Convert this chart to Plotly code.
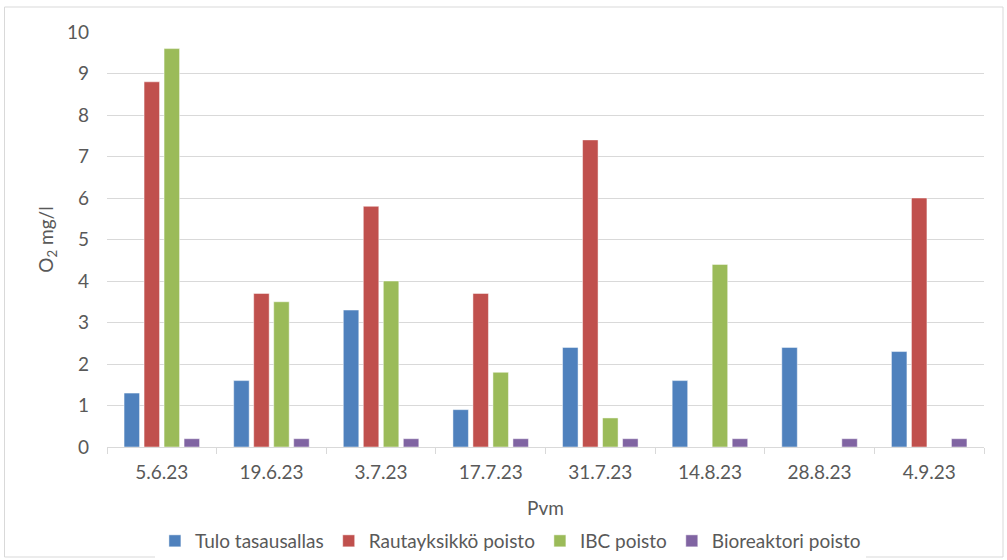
import plotly.graph_objects as go

# Sampling dates and dissolved oxygen readings (mg/l) per sampling point
dates = ["5.6.23", "19.6.23", "3.7.23", "17.7.23", "31.7.23", "14.8.23", "28.8.23", "4.9.23"]
tulo_tasausallas = [1.3, 1.6, 3.3, 0.9, 2.4, 1.6, 2.4, 2.3]
rautayksikko_poisto = [8.8, 3.7, 5.8, 3.7, 7.4, None, None, 6.0]
ibc_poisto = [9.6, 3.5, 4.0, 1.8, 0.7, 4.4, None, None]
bioreaktori_poisto = [0.2, 0.2, 0.2, 0.2, 0.2, 0.2, 0.2, 0.2]

series = [
    ("Tulo tasausallas", tulo_tasausallas, "#4F81BD"),
    ("Rautayksikkö poisto", rautayksikko_poisto, "#C0504D"),
    ("IBC poisto", ibc_poisto, "#9BBB59"),
    ("Bioreaktori poisto", bioreaktori_poisto, "#8064A2"),
]

FONT = "Lato, 'Liberation Sans', sans-serif"
TEXT = "#595959"

fig = go.Figure()
for name, vals, col in series:
    fig.add_trace(go.Bar(
        x=dates, y=vals, name=name,
        marker=dict(color=col, line=dict(color="rgba(255,255,255,0.6)", width=0.8)),
    ))

W, H = 1007, 560
L, R, T, B = 107, 23, 32, 113
pw, ph = W - L - R, H - T - B

fig.update_layout(
    width=W, height=H,
    margin=dict(l=L, r=R, t=T, b=B, autoexpand=False),
    paper_bgcolor="white", plot_bgcolor="white",
    barmode="group", bargap=0.27, bargroupgap=0.225,
    font=dict(family=FONT, color=TEXT, size=19),
    showlegend=True,
    legend=dict(
        orientation="h", x=0.46, xanchor="center", y=-0.2265, yanchor="middle",
        font=dict(size=19, color=TEXT), itemwidth=30, traceorder="normal",
    ),
    xaxis=dict(
        type="category", showgrid=False, showline=True, linecolor="#D9D9D9", linewidth=1,
        ticks="outside", tickson="boundaries", ticklen=6, tickcolor="#D9D9D9",
        tickfont=dict(size=19, color=TEXT), ticklabelstandoff=8, automargin=False,
        title=dict(text="Pvm", font=dict(size=19, color=TEXT), standoff=19),
    ),
    yaxis=dict(
        range=[0, 10], dtick=1, showgrid=True, gridcolor="#D9D9D9", gridwidth=1,
        zeroline=False, showline=False, ticks="", ticklen=0, automargin=False,
        tickfont=dict(size=19, color=TEXT), ticklabelstandoff=17,
        title=dict(text="O<sub>2</sub> mg/l", font=dict(size=19, color=TEXT), standoff=8),
    ),
    shapes=[dict(
        type="rect", xref="paper", yref="paper",
        x0=(4.5 - L) / pw, x1=(1003 - L) / pw,
        y0=(H - B - 557) / ph, y1=(H - B - 7) / ph,
        line=dict(color="#D9D9D9", width=1), fillcolor="rgba(0,0,0,0)", layer="below",
    )],
)

fig.write_html("out.html")
